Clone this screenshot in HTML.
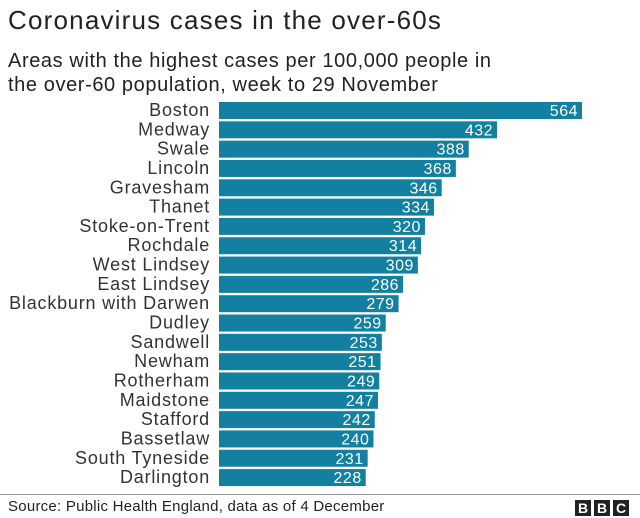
<!DOCTYPE html>
<html><head><meta charset="utf-8"><style>
body{margin:0;width:640px;height:518px;background:#fff;font-family:"Liberation Sans",sans-serif;overflow:hidden;position:relative}
.t{position:absolute;left:8px;top:5px;font-size:26px;letter-spacing:1.2px;color:#222}
.s{position:absolute;left:8px;top:49px;font-size:20px;letter-spacing:0.6px;line-height:24px;color:#222}
.f{position:absolute;left:8px;top:498px;font-size:15px;letter-spacing:0.25px;color:#222}
.line{position:absolute;left:0;top:494px;width:640px;height:1px;background:#999}
.bbc{position:absolute;top:500px;width:16px;height:16px;background:#222;color:#fff;font-weight:bold;font-size:14px;line-height:16px;text-align:center}
</style></head><body>
<div class="t">Coronavirus cases in the over-60s</div>
<div class="s">Areas with the highest cases per 100,000 people in<br>the over-60 population, week to 29 November</div>
<svg id="c" width="640" height="495" style="position:absolute;left:0;top:0"></svg>
<div class="line"></div>
<div class="f">Source: Public Health England, data as of 4 December</div>
<div class="bbc" style="left:575px">B</div>
<div class="bbc" style="left:594px">B</div>
<div class="bbc" style="left:613px">C</div>
<script>
const categories=["Boston","Medway","Swale","Lincoln","Gravesham","Thanet","Stoke-on-Trent","Rochdale","West Lindsey","East Lindsey","Blackburn with Darwen","Dudley","Sandwell","Newham","Rotherham","Maidstone","Stafford","Bassetlaw","South Tyneside","Darlington"];
const values=[564,432,388,368,346,334,320,314,309,286,279,259,253,251,249,247,242,240,231,228];
const svg=document.getElementById('c');
const NS='http://www.w3.org/2000/svg';
const x0=219, xs=363/564;
const xScale=v=>v*xs;
const yScale=i=>102+i*19.32;
categories.forEach((c,i)=>{
  const y=yScale(i);
  const r=document.createElementNS(NS,'rect');
  
  
  r.setAttribute('x',x0);r.setAttribute('y',y);r.setAttribute('width',xScale(values[i]));r.setAttribute('height',17);r.setAttribute('fill','#1380a1');
  svg.appendChild(r);
  const l=document.createElementNS(NS,'text');
  
  
  l.setAttribute('x',210);l.setAttribute('y',y+14);l.setAttribute('text-anchor','end');l.setAttribute('font-size','18');l.setAttribute('letter-spacing','0.8');l.setAttribute('fill','#333');
  l.textContent=c;svg.appendChild(l);
  const v=document.createElementNS(NS,'text');
  
  
  v.setAttribute('x',x0+xScale(values[i])-4);v.setAttribute('y',y+14);v.setAttribute('text-anchor','end');v.setAttribute('font-size','16');v.setAttribute('letter-spacing','0.5');v.setAttribute('fill','#fff');
  v.textContent=values[i];svg.appendChild(v);
});
</script>
</body></html>
